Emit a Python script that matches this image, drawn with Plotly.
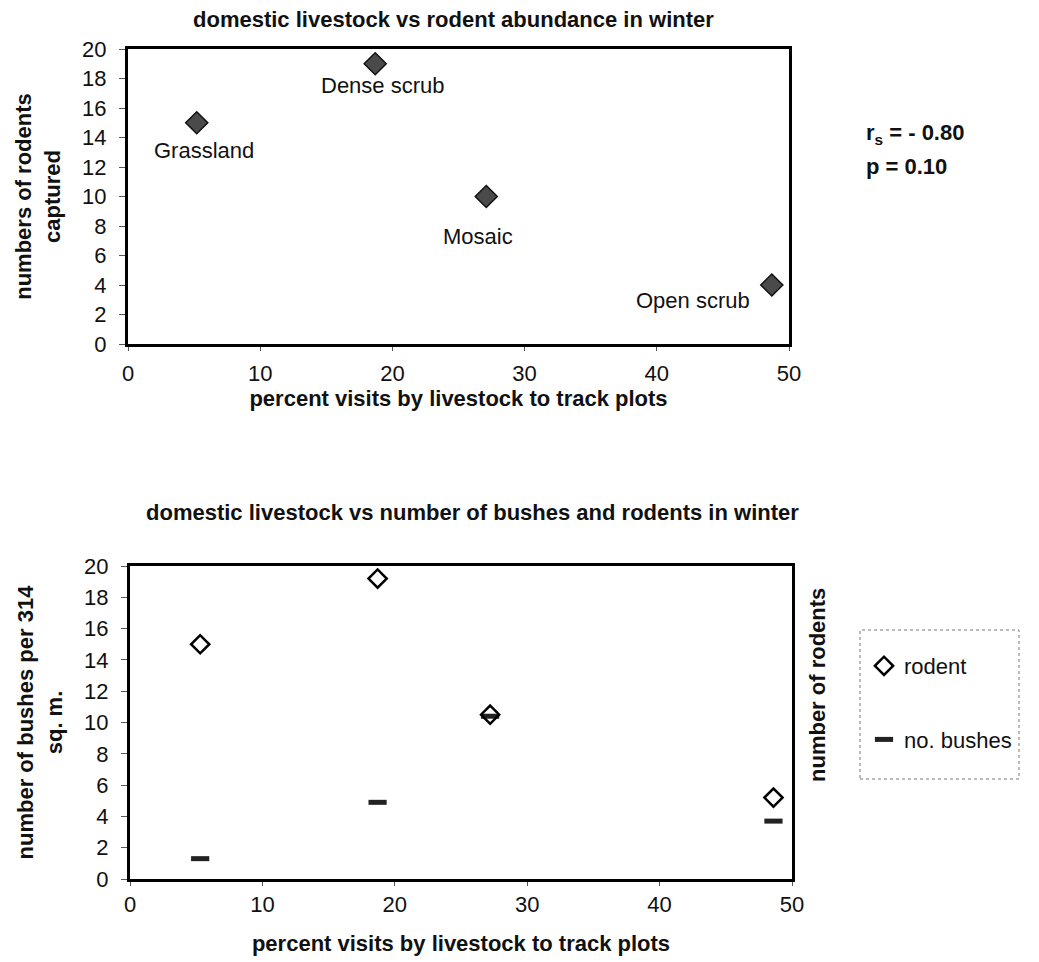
import plotly.graph_objects as go

FONT = "Arial, 'Liberation Sans', sans-serif"

# ---- data ----
sites = ["Grassland", "Dense scrub", "Mosaic", "Open scrub"]
visits_top = [5.2, 18.7, 27.1, 48.7]
rodents_top = [15, 19, 10, 4]

visits_bottom = [5.3, 18.7, 27.2, 48.6]
rodents_bottom = [15.0, 19.2, 10.5, 5.2]
bushes_bottom = [1.3, 4.9, 10.4, 3.7]

x_ticks = [0, 10, 20, 30, 40, 50]
y_ticks = [0, 2, 4, 6, 8, 10, 12, 14, 16, 18, 20]

# label offsets (pixels) relative to each point
label_dx = [7, 8, -8, -79]
label_dy = [-28, -22, -40, -15]

# page body has an 8px margin; figure drawn inside it
OFF = 8
W, H = 1039 - OFF, 962 - OFF


def px_x(p):
    return (p - OFF) / W


def px_y(p):
    return 1 - (p - OFF) / H


FS = 22

fig = go.Figure()

fig.add_trace(go.Scatter(
    x=visits_top, y=rodents_top, mode="markers", xaxis="x", yaxis="y",
    marker=dict(symbol="diamond", size=17, color="#4a4a4a",
                line=dict(color="#111", width=1.5)),
    showlegend=False))

fig.add_trace(go.Scatter(
    x=visits_bottom, y=bushes_bottom, mode="markers", xaxis="x2", yaxis="y2",
    name="no. bushes", legendgroup="b", legendrank=2,
    marker=dict(symbol="line-ew-open", size=13, color="#222",
                line=dict(color="#222", width=5))))

fig.add_trace(go.Scatter(
    x=visits_bottom, y=rodents_bottom, mode="markers", xaxis="x2", yaxis="y2",
    name="rodent", legendgroup="a", legendrank=1,
    marker=dict(symbol="diamond-open", size=14, color="#000",
                line=dict(color="#000", width=2.5))))

axis_common = dict(
    showline=True, linecolor="black", linewidth=3, mirror=True,
    showgrid=False, zeroline=False, ticks="outside", tickcolor="#555",
    tickwidth=1, tickfont=dict(family=FONT, size=FS, color="#111"),
    automargin=False)

fig.update_layout(
    width=W, height=H, autosize=False,
    margin=dict(l=0, r=0, t=0, b=0),
    paper_bgcolor="white", plot_bgcolor="white",
    font=dict(family=FONT, color="#111"),
    xaxis=dict(axis_common, domain=[px_x(128), px_x(789)], range=[0, 50],
               tickvals=x_ticks, ticklen=4, ticklabelstandoff=4, anchor="y",
               title=dict(text="<b>percent visits by livestock to track plots</b>",
                          font=dict(family=FONT, size=FS), standoff=2)),
    yaxis=dict(axis_common, domain=[px_y(344), px_y(49)], range=[0, 20],
               tickvals=y_ticks, ticklen=6, ticklabelstandoff=8, anchor="x",
               title=dict(text="<b>numbers of rodents<br>captured</b>",
                          font=dict(family=FONT, size=FS), standoff=16)),
    xaxis2=dict(axis_common, domain=[px_x(130), px_x(792)], range=[0, 50],
                tickvals=x_ticks, ticklen=4, ticklabelstandoff=0, anchor="y2",
                title=dict(text="<b>percent visits by livestock to track plots</b>",
                           font=dict(family=FONT, size=FS), standoff=20)),
    yaxis2=dict(axis_common, domain=[px_y(879), px_y(566)], range=[0, 20],
                tickvals=y_ticks, ticklen=6, ticklabelstandoff=8, anchor="x2",
                title=dict(text="<b>number of bushes per 314<br>sq. m.</b>",
                           font=dict(family=FONT, size=FS), standoff=16)),
    legend=dict(x=px_x(864), y=px_y(645), xanchor="left", yanchor="top",
                borderwidth=0, bgcolor="rgba(0,0,0,0)",
                font=dict(family=FONT, size=FS, color="#111"),
                traceorder="grouped", tracegroupgap=42, itemwidth=30),
    shapes=[dict(type="rect", xref="paper", yref="paper",
                 x0=px_x(860), x1=px_x(1019), y0=px_y(779), y1=px_y(630),
                 line=dict(color="#777", width=1, dash="dot"),
                 fillcolor="rgba(0,0,0,0)", layer="below")],
)

annotations = [
    dict(text="<b>domestic livestock vs rodent abundance in winter</b>",
         x=px_x(453), y=px_y(20), xref="paper", yref="paper",
         xanchor="center", yanchor="middle",
         showarrow=False, font=dict(family=FONT, size=FS)),
    dict(text="<b>r<sub>s</sub> = - 0.80</b>",
         x=px_x(864), y=px_y(134), xref="paper", yref="paper",
         xanchor="left", yanchor="middle",
         showarrow=False, font=dict(family=FONT, size=FS)),
    dict(text="<b>p = 0.10</b>",
         x=px_x(864), y=px_y(166), xref="paper", yref="paper",
         xanchor="left", yanchor="middle",
         showarrow=False, font=dict(family=FONT, size=FS)),
    dict(text="<b>domestic livestock vs number of bushes and rodents in winter</b>",
         x=px_x(472), y=px_y(513), xref="paper", yref="paper",
         xanchor="center", yanchor="middle",
         showarrow=False, font=dict(family=FONT, size=FS)),
    dict(text="<b>number of rodents</b>", textangle=-90,
         x=px_x(817), y=px_y(685), xref="paper", yref="paper",
         xanchor="center", yanchor="middle",
         showarrow=False, font=dict(family=FONT, size=FS)),
]
for name, xv, yv, dx, dy in zip(sites, visits_top, rodents_top, label_dx, label_dy):
    annotations.append(dict(text=name, x=xv, y=yv, xref="x", yref="y",
                            xshift=dx, yshift=dy, showarrow=False,
                            font=dict(family=FONT, size=FS, color="#111")))
fig.update_layout(annotations=annotations)

fig.write_html("out.html")
